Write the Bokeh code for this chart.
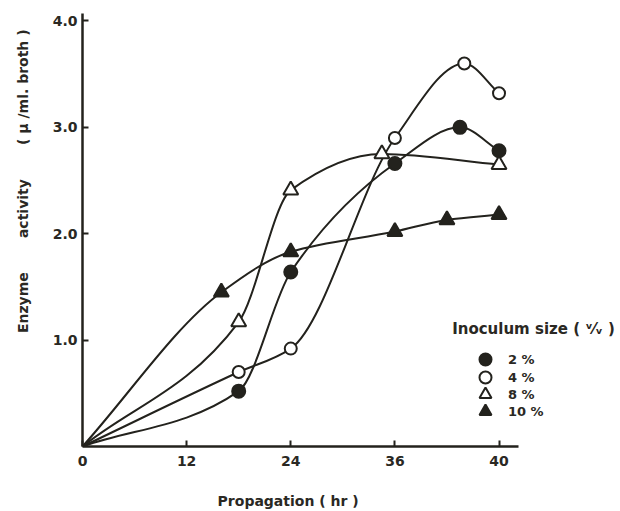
import numpy as np
from bokeh.plotting import figure
from bokeh.models import Range1d, FixedTicker, Legend, LegendItem, Label
from bokeh.embed import file_html
from bokeh.resources import INLINE

# ---- data (hours, enzyme activity u/ml broth) ----
hours_2 = [18, 24, 36, 43.5, 48]
act_2 = [0.52, 1.64, 2.66, 3.00, 2.78]
hours_4 = [18, 24, 36, 44, 48]
act_4 = [0.70, 0.92, 2.90, 3.60, 3.32]
hours_8 = [18, 24, 34.5, 48]
act_8 = [1.17, 2.41, 2.75, 2.65]
hours_10 = [16, 24, 36, 42, 48]
act_10 = [1.45, 1.83, 2.02, 2.13, 2.18]
origin_hr = 0
origin_act = 0.0

x_ticks = [0, 12, 24, 36, 48]
x_tick_labels = ["0", "12", "24", "36", "40"]
y_ticks = [1, 2, 3, 4]
series_labels = ["2 %", "4 %", "8 %", "10 %"]
legend_title = "Inoculum size ( \u1d5b\u2044\u1d65 )"

INK = "#23221d"
TXT = "#2a2823"
FONT = "DejaVu Sans"
NB = "\u00a0"

p = figure(width=620, height=511, output_backend="svg", toolbar_location=None,
           x_range=Range1d(0, 62.0), y_range=Range1d(0, 4.07),
           min_border_left=82, min_border_right=0, min_border_top=13, min_border_bottom=61)
p.outline_line_color = None
p.grid.visible = False
p.background_fill_color = "white"
p.border_fill_color = "white"


def smooth(xs, ys):
    """Monotone (PCHIP-style) Hermite curve through the points, as cubic Bezier segments."""
    xs = np.asarray(xs, float); ys = np.asarray(ys, float)
    h = np.diff(xs); d = np.diff(ys) / h
    n = len(xs)
    m = np.zeros(n)
    m[0] = d[0]; m[-1] = d[-1]
    for k in range(1, n - 1):
        if d[k - 1] * d[k] <= 0:
            m[k] = 0.0
        else:
            w1 = 2 * h[k] + h[k - 1]
            w2 = h[k] + 2 * h[k - 1]
            m[k] = (w1 + w2) / (w1 / d[k - 1] + w2 / d[k])
    return dict(x0=xs[:-1], y0=ys[:-1], x1=xs[1:], y1=ys[1:],
                cx0=xs[:-1] + h / 3, cy0=ys[:-1] + m[:-1] * h / 3,
                cx1=xs[1:] - h / 3, cy1=ys[1:] - m[1:] * h / 3)


series = [
    (hours_2, act_2, "circle", INK, 13),
    (hours_4, act_4, "circle", "white", 12),
    (hours_8, act_8, "triangle", "white", 15),
    (hours_10, act_10, "triangle", INK, 15),
]

renderers = []
for xs, ys, mk, fill, sz in series:
    seg = smooth([origin_hr] + xs, [origin_act] + ys)
    p.bezier(line_color=INK, line_width=2, **seg)
for xs, ys, mk, fill, sz in series:
    r = p.scatter(xs, ys, marker=mk, size=sz, fill_color=fill, line_color=INK, line_width=2)
    renderers.append(r)

# axes
for ax in (p.xaxis[0], p.yaxis[0]):
    ax.axis_line_width = 2.5
    ax.axis_line_color = INK
    ax.major_tick_in = 6
    ax.major_tick_out = 0
    ax.major_tick_line_width = 2
    ax.major_tick_line_color = INK
    ax.minor_tick_line_color = None
    ax.major_label_text_font = FONT
    ax.major_label_text_font_style = "bold"
    ax.major_label_text_font_size = "14px"
    ax.major_label_text_color = TXT
    ax.axis_label_text_font = FONT
    ax.axis_label_text_font_style = "bold"
    ax.axis_label_text_color = TXT

p.xaxis.bounds = (0, 50.3)
p.xaxis.ticker = FixedTicker(ticks=x_ticks)
p.xaxis.major_label_overrides = {t: l for t, l in zip(x_ticks, x_tick_labels)}
p.xaxis.major_label_standoff = 9
p.xaxis.axis_label = "Propagation ( hr )" + NB * 26
p.xaxis.axis_label_text_font_size = "14px"
p.xaxis.axis_label_standoff = 24

p.yaxis.bounds = (0, 4.07)
p.yaxis.ticker = FixedTicker(ticks=y_ticks)
p.yaxis.major_label_overrides = {t: f"{t:.1f}" for t in y_ticks}
p.yaxis.major_label_standoff = 5
p.yaxis.axis_label = NB * 21 + "Enzyme" + NB * 7 + "activity" + NB * 7 + "( \u03bc /ml. broth )" + NB
p.yaxis.axis_label_text_font_size = "14px"
p.yaxis.axis_label_standoff = 19

# legend: one single-item legend per row so that rows can sit close with large keys
row_offsets = [72, 54, 37, 20]
for lab, r, vy in zip(series_labels, renderers, row_offsets):
    lg = Legend(
        items=[LegendItem(label=lab, renderers=[r])],
        location=(388, vy), glyph_width=30, glyph_height=30,
        label_standoff=8, padding=0, margin=0,
        border_line_color=None, background_fill_alpha=0,
        label_text_font=FONT, label_text_font_style="bold", label_text_font_size="13px",
        label_text_color=TXT,
    )
    p.add_layout(lg, "center")

p.add_layout(Label(x=42.6, y=1.10, text=legend_title, text_font=FONT,
                   text_font_style="bold", text_font_size="15px", text_color=TXT,
                   text_baseline="middle", text_align="left"))

open("out.html", "w").write(file_html(p, INLINE))
